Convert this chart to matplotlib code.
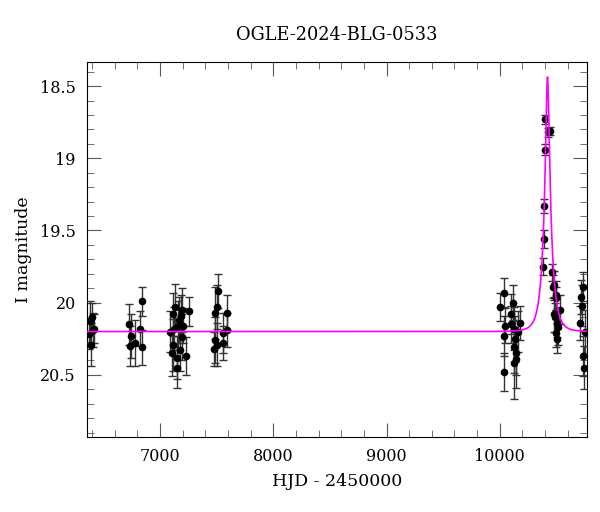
import numpy as np
import matplotlib
matplotlib.use("Agg")
import matplotlib.pyplot as plt
from matplotlib.ticker import MultipleLocator

# photometry: HJD-2450000, I mag, error
hjd = [6370, 6385, 6400, 6410, 6395, 6420,
       6726, 6743, 6735, 6779, 6844, 6823, 6838,
       7089, 7112, 7133, 7183, 7162, 7118, 7148, 7177, 7230, 7259, 7103, 7192,
       7153, 7206, 7125, 7170, 7195,
       7516, 7487, 7507, 7487, 7478, 7501, 7554, 7589, 7594, 7560,
       10038, 10000, 10044, 10033, 10033, 10113, 10098, 10122, 10180, 10133,
       10127, 10142, 10127, 10144, 10103, 10160,
       10400, 10428, 10442, 10398, 10392, 10388, 10383,
       10459, 10468, 10475, 10494, 10496, 10534, 10487, 10505, 10511, 10496,
       10505, 10480,
       10736, 10720, 10730, 10712, 10736, 10742, 10750]
mag = [20.22, 20.13, 20.10, 20.19, 20.29, 20.18,
       20.15, 20.23, 20.30, 20.28, 19.99, 20.18, 20.31,
       20.20, 20.08, 20.03, 20.09, 20.16, 20.29, 20.38, 20.33, 20.37, 20.06, 20.35, 20.24,
       20.45, 20.16, 20.18, 20.12, 20.05,
       19.92, 20.07, 20.03, 20.26, 20.32, 20.29, 20.28, 20.07, 20.19, 20.21,
       19.93, 20.03, 20.16, 20.23, 20.48, 20.00, 20.15, 20.18, 20.14, 20.25,
       20.31, 20.39, 20.42, 20.35, 20.08, 20.20,
       18.73, 18.82, 18.81, 18.94, 19.33, 19.56, 19.75,
       19.79, 19.89, 19.88, 19.97, 19.95, 20.05, 20.10, 20.14, 20.17, 20.21,
       20.25, 20.08,
       19.89, 19.96, 20.02, 20.14, 20.37, 20.45, 20.20]
err = [0.10, 0.14, 0.10, 0.12, 0.15, 0.10,
       0.14, 0.15, 0.14, 0.16, 0.10, 0.12, 0.12,
       0.14, 0.15, 0.16, 0.14, 0.17, 0.18, 0.15, 0.14, 0.13, 0.10, 0.16, 0.16,
       0.14, 0.12, 0.15, 0.16, 0.15,
       0.12, 0.18, 0.15, 0.16, 0.12, 0.15, 0.12, 0.12, 0.12, 0.14,
       0.10, 0.10, 0.12, 0.14, 0.13, 0.12, 0.13, 0.15, 0.12, 0.16,
       0.18, 0.20, 0.25, 0.15, 0.14, 0.14,
       0.03, 0.03, 0.03, 0.04, 0.05, 0.06, 0.06,
       0.06, 0.08, 0.10, 0.08, 0.10, 0.10, 0.10, 0.10, 0.12, 0.10,
       0.10, 0.12,
       0.10, 0.12, 0.14, 0.12, 0.14, 0.15, 0.15]

# point-lens model parameters (magenta curve)
t0, tE, u0, I0 = 10421.0, 65.0, 0.2, 20.20

tt = np.linspace(6356, 10768, 4000)
u = np.sqrt(u0**2 + ((tt - t0) / tE) ** 2)
A = (u**2 + 2) / (u * np.sqrt(u**2 + 4))
model = I0 - 2.5 * np.log10(A)

plt.rcParams["font.family"] = ["DejaVu Serif"]

fig = plt.figure(figsize=(6, 5.12), dpi=100)
ax = fig.add_axes([0.145, 0.1465, 0.833, 0.7325])

ax.errorbar(hjd, mag, yerr=err, fmt="o", color="black", ms=4.5,
            ecolor="0.2", elinewidth=1, capsize=3, capthick=1, zorder=3)
ax.plot(tt, model, color="magenta", lw=1.2, zorder=4)

ax.set_xlim(6356, 10768)
ax.set_ylim(20.93, 18.333)
ax.xaxis.set_major_locator(MultipleLocator(1000))
ax.xaxis.set_minor_locator(MultipleLocator(200))
ax.yaxis.set_major_locator(MultipleLocator(0.5))
ax.yaxis.set_minor_locator(MultipleLocator(0.1))
ax.yaxis.set_major_formatter(plt.FuncFormatter(lambda v, p: f"{v:g}"))
ax.tick_params(which="both", direction="in", top=True, right=True,
               color="0.35", labelsize=11.5, pad=8)
ax.tick_params(which="major", length=10)
ax.tick_params(which="minor", length=5)

ax.set_xlabel("HJD - 2450000", fontsize=12.5, labelpad=6)
ax.set_ylabel("I magnitude", fontsize=12.5, labelpad=6)
ax.set_title("OGLE-2024-BLG-0533", fontsize=12.8, pad=16)

fig.savefig("out.png", dpi=100)
